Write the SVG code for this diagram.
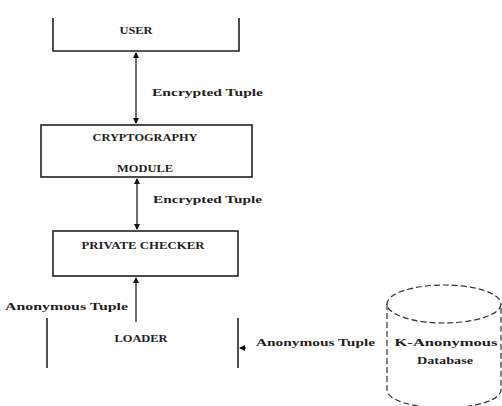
<svg xmlns="http://www.w3.org/2000/svg" width="502" height="406" viewBox="0 0 502 406">
<style>
.ln{stroke:#222;stroke-width:1.6;fill:none}
.cn{stroke:#333;stroke-width:1.4;fill:none}
.t{font-family:"Liberation Serif","Times New Roman",serif;font-size:11px;fill:#1e1e1e;font-weight:bold}
.c{text-anchor:middle}
.db{stroke:#333;stroke-width:1.2;fill:none;stroke-dasharray:6 3}
</style>
<defs>
<marker id="ah" markerWidth="6" markerHeight="6" refX="5" refY="3" orient="auto-start-reverse" markerUnits="userSpaceOnUse">
<path d="M0,0 L6,3 L0,6 z" fill="#111"/>
</marker>
</defs>
<rect width="502" height="406" fill="#fff"/>
<g id="user">
<path class="ln" d="M53,18 V51 H239 V18"/>
<text class="t c" x="136" y="34" textLength="33" lengthAdjust="spacingAndGlyphs" fill="#1c3550">USER</text>
</g>
<g id="crypto">
<rect class="ln" x="41" y="125" width="211" height="52"/>
<text class="t c" x="145" y="141" textLength="105" lengthAdjust="spacingAndGlyphs">CRYPTOGRAPHY</text>
<text class="t c" x="145" y="172" textLength="56" lengthAdjust="spacingAndGlyphs">MODULE</text>
</g>
<g id="checker">
<rect class="ln" x="53" y="231" width="185" height="45"/>
<text class="t c" x="143" y="249" textLength="123" lengthAdjust="spacingAndGlyphs">PRIVATE CHECKER</text>
</g>
<g id="loader">
<path class="ln" d="M47,318 V368"/>
<path class="ln" d="M238,318 V368"/>
<text class="t c" x="141" y="342" textLength="53" lengthAdjust="spacingAndGlyphs">LOADER</text>
</g>
<g id="database">
<path class="db" d="M387,304 V390 A57,18 0 0 0 501,390 V304"/>
<ellipse class="db" cx="444" cy="304" rx="57" ry="19"/>
<text class="t c" x="446" y="346" textLength="103" lengthAdjust="spacingAndGlyphs">K-Anonymous</text>
<text class="t c" x="445" y="364" textLength="56" lengthAdjust="spacingAndGlyphs">Database</text>
</g>
<g id="connectors">
<line class="cn" x1="136" y1="53" x2="136" y2="123" marker-start="url(#ah)" marker-end="url(#ah)"/>
<line class="cn" x1="137" y1="179" x2="137" y2="229" marker-start="url(#ah)" marker-end="url(#ah)"/>
<line class="cn" x1="136" y1="322" x2="136" y2="278" marker-end="url(#ah)"/>
<line class="cn" x1="246" y1="348" x2="240" y2="348" marker-end="url(#ah)"/>
<text class="t" x="152" y="96" textLength="111" lengthAdjust="spacingAndGlyphs">Encrypted Tuple</text>
<text class="t" x="153" y="203" textLength="109" lengthAdjust="spacingAndGlyphs">Encrypted Tuple</text>
<text class="t" x="5" y="310" textLength="123" lengthAdjust="spacingAndGlyphs">Anonymous Tuple</text>
<text class="t" x="256" y="346" textLength="119" lengthAdjust="spacingAndGlyphs">Anonymous  Tuple</text>
</g>
</svg>
